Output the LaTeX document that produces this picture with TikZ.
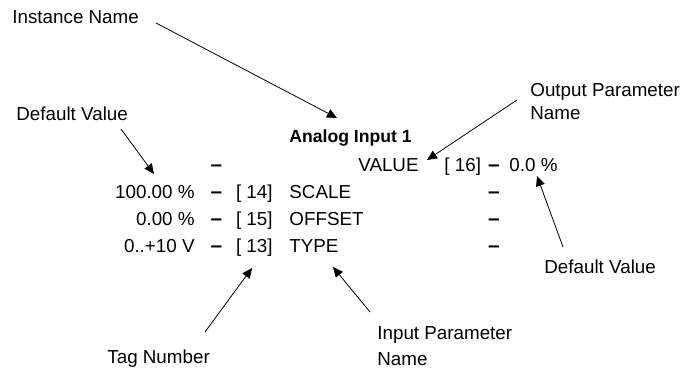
\documentclass[tikz,border=0pt]{standalone}
\usepackage{fontspec}
\setmainfont{Liberation Sans}
\usetikzlibrary{arrows.meta}
\tikzset{
	lbl/.style={inner sep=0pt, font=\fontsize{9.4}{12.2}\selectfont},
	dsh/.style={lbl, anchor=base, font=\fontsize{10.4}{12.2}\selectfont\bfseries},
	pointer/.style={thin, -{Triangle[length=5pt,width=4.5pt]}},
}

\begin{document}
\begin{tikzpicture}[x=.5pt, y=-.5pt]
	\useasboundingbox (0,0) rectangle (689,368);
	\node[lbl, anchor=base west] (instname) at (12,24) {Instance Name};
	\node[lbl, anchor=base west] (defleft) at (16,121) {Default Value};
	\node[lbl, anchor=north west, align=left, font=\fontsize{9.4}{11.5}\selectfont] (outname) at (530,82.5) {Output Parameter\\Name};
	\node[lbl, anchor=base west] (defright) at (544,273) {Default Value};
	\node[lbl, anchor=base west] (tagnum) at (107,363) {Tag Number};
	\node[lbl, anchor=north west, align=left, font=\fontsize{9.4}{13}\selectfont] (inname) at (377,326.5) {Input Parameter\\Name};
	\node[lbl, anchor=base west, font=\fontsize{8.8}{11}\selectfont\bfseries] (title) at (289,143) {Analog Input 1};
	\foreach \r [count=\i] in {172,199,226,253} {
		\node[dsh] (ldash\i) at (216.5,\r) {--};
		\node[dsh] (rdash\i) at (494,\r) {--};
	}
	\node[lbl, anchor=base east] (outpar) at (419,172) {VALUE};
	\node[lbl, anchor=base west] (outtag) at (444,172) {[ 16]};
	\node[lbl, anchor=base west] (outval) at (509,172) {0.0 \%};
	\foreach \r/\val/\tag/\pname/\i in {199/100.00 \%/14/SCALE/2, 226/0.00 \%/15/OFFSET/3, 253/0..+10 V/13/TYPE/4} {
		\node[lbl, anchor=base east] (inval\i) at (195,\r) {\val};
		\node[lbl, anchor=base east] (intag\i) at (273,\r) {[ \tag]};
		\node[lbl, anchor=base west] (inpar\i) at (289,\r) {\pname};
	}
	\coordinate (instfrom) at (156,23);
	\coordinate (instto) at (337,118);
	\coordinate (deflfrom) at (121,129);
	\coordinate (deflto) at (154,174);
	\coordinate (outfrom) at (517,100);
	\coordinate (outto) at (427,160);
	\coordinate (defrfrom) at (563,247);
	\coordinate (defrto) at (537,176);
	\coordinate (tagfrom) at (205,332);
	\coordinate (tagto) at (252,268);
	\coordinate (infrom) at (370,312);
	\coordinate (into) at (333,267);
	\draw[pointer] (instfrom) -- (instto);
	\draw[pointer] (deflfrom) -- (deflto);
	\draw[pointer] (outfrom) -- (outto);
	\draw[pointer] (defrfrom) -- (defrto);
	\draw[pointer] (tagfrom) -- (tagto);
	\draw[pointer] (infrom) -- (into);
\end{tikzpicture}
\end{document}
